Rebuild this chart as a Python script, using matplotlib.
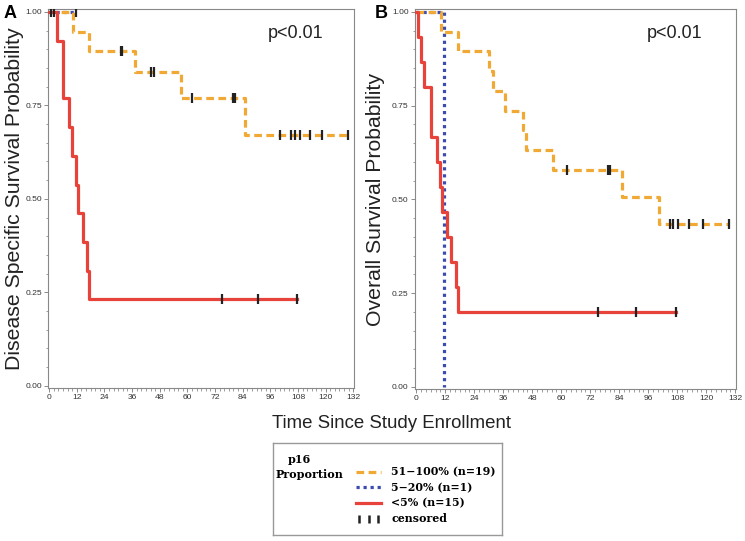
import matplotlib
matplotlib.use("Agg")
import matplotlib.pyplot as plt
from matplotlib.lines import Line2D
from matplotlib.legend_handler import HandlerLine2D
from matplotlib.ticker import MultipleLocator

# -----------------------------
# Data (months, survival probability)
# -----------------------------
# Panel A: disease specific survival
dss_hi_t = [0, 10.3, 17.5, 37.1, 57.1, 85.1, 129.7]
dss_hi_s = [1.0, 0.947, 0.895, 0.839, 0.769, 0.671, 0.671]
dss_hi_cens = [31.0, 31.6, 44.4, 45.5, 62.2, 79.8, 80.6, 100.4, 104.8,
               106.5, 108.7, 113.0, 118.5, 129.7]

dss_mid_t = [0, 11.7]
dss_mid_s = [1.0, 1.0]
dss_mid_cens = [11.7]

dss_lo_t = [0, 3.3, 6.2, 8.7, 10.1, 11.7, 12.7, 14.6, 16.6, 17.2, 107.7]
dss_lo_s = [1.0, 0.923, 0.769, 0.692, 0.615, 0.538, 0.462, 0.385, 0.308,
            0.231, 0.231]
dss_lo_cens = [0.7, 2.1, 75.0, 90.6, 107.7]

# Panel B: overall survival
os_hi_t = [0, 10.4, 17.3, 30.2, 31.6, 36.6, 44.2, 45.6, 56.7, 85.0, 100.6, 129.5]
os_hi_s = [1.0, 0.947, 0.895, 0.842, 0.789, 0.737, 0.684, 0.632, 0.579,
           0.507, 0.434, 0.434]
os_hi_cens = [62.2, 79.5, 80.3, 104.8, 106.3, 108.4, 112.9, 118.6, 129.5]

os_mid_t = [0, 11.7]
os_mid_s = [1.0, 0.0]
os_mid_cens = []

os_lo_t = [0, 0.7, 2.1, 3.2, 6.2, 8.7, 9.7, 10.8, 12.7, 14.5, 16.6, 17.3, 107.5]
os_lo_s = [1.0, 0.933, 0.867, 0.800, 0.667, 0.600, 0.533, 0.467, 0.400,
           0.333, 0.267, 0.200, 0.200]
os_lo_cens = [75.1, 90.8, 107.5]

group_labels = ["51\u2212100% (n=19)", "5\u221220% (n=1)", "<5% (n=15)"]

ORANGE = "#F0A935"
BLUE = "#3B4BAE"
RED = "#E8433B"

plt.rcParams["font.family"] = ["Liberation Sans", "DejaVu Sans"]


def surv_at(ts, ss, t):
    val = ss[0]
    for ti, si in zip(ts, ss):
        if ti <= t:
            val = si
    return val


def draw_group(ax, ts, ss, cens, style):
    ax.step(ts, ss, where="post", **style)
    if cens:
        ys = [surv_at(ts, ss, c) for c in cens]
        ax.plot(cens, ys, ls="none", marker="|", markersize=7,
                mew=1.6, color="#222222", zorder=5)


hi_style = dict(color=ORANGE, lw=2.3, dashes=(2.4, 1.4), zorder=3)
mid_style = dict(color=BLUE, lw=2.3, dashes=(1.0, 1.2), zorder=2,
                 dash_capstyle="butt")
lo_style = dict(color=RED, lw=2.3, zorder=4)


def style_axes(ax, ylabel, label_x):
    ax.set_xlim(-0.5, 132.3)
    ax.set_ylim(-0.006, 1.008)
    ax.xaxis.set_major_locator(MultipleLocator(12))
    ax.xaxis.set_minor_locator(MultipleLocator(2))
    ax.yaxis.set_major_locator(MultipleLocator(0.25))
    ax.yaxis.set_minor_locator(MultipleLocator(0.05))
    ax.yaxis.set_major_formatter(plt.FormatStrFormatter("%.2f"))
    ax.tick_params(axis="both", which="major", labelsize=6.1, length=3,
                   width=0.6, color="#777777", labelcolor="#333333", pad=1.5)
    ax.tick_params(axis="both", which="minor", length=1.8, width=0.5,
                   color="#777777")
    for sp in ax.spines.values():
        sp.set_color("#888888")
        sp.set_linewidth(0.8)
    ax.set_ylabel(ylabel, fontsize=15.3, color="#222222")
    ax.yaxis.set_label_coords(label_x, 0.5)
    ax.text(0.81, 0.935, "p<0.01", transform=ax.transAxes, ha="center",
            va="center", fontsize=13, color="#222222")


fig = plt.figure(figsize=(7.45, 5.41), dpi=100)
axA = fig.add_axes([48 / 745, 1 - 388 / 541, 306 / 745, 379 / 541])
axB = fig.add_axes([415 / 745, 1 - 389 / 541, 321 / 745, 380 / 541])

draw_group(axA, dss_mid_t, dss_mid_s, dss_mid_cens, mid_style)
draw_group(axA, dss_hi_t, dss_hi_s, dss_hi_cens, hi_style)
draw_group(axA, dss_lo_t, dss_lo_s, dss_lo_cens, lo_style)
style_axes(axA, "Disease Specific Survival Probability", -0.077)

draw_group(axB, os_mid_t, os_mid_s, os_mid_cens, mid_style)
draw_group(axB, os_hi_t, os_hi_s, os_hi_cens, hi_style)
draw_group(axB, os_lo_t, os_lo_s, os_lo_cens, lo_style)
style_axes(axB, "Overall Survival Probability", -0.095)

fig.text(10 / 745, 1 - 13 / 541, "A", fontsize=13, fontweight="bold",
         ha="center", va="center")
fig.text(381 / 745, 1 - 13 / 541, "B", fontsize=13, fontweight="bold",
         ha="center", va="center")
fig.text(391 / 745, 1 - 423 / 541, "Time Since Study Enrollment",
         fontsize=13.4, ha="center", va="center", color="#222222")

# -----------------------------
# Legend box
# -----------------------------
leg_ax = fig.add_axes([273 / 745, 1 - 535 / 541, 229 / 745, 92 / 541])
leg_ax.set_xticks([])
leg_ax.set_yticks([])
for sp in leg_ax.spines.values():
    sp.set_color("#999999")
    sp.set_linewidth(1.0)

handles = [
    Line2D([], [], **{k: v for k, v in hi_style.items() if k != "zorder"}),
    Line2D([], [], **{k: v for k, v in mid_style.items() if k != "zorder"}),
    Line2D([], [], **{k: v for k, v in lo_style.items() if k != "zorder"}),
]
cens_handle = Line2D([], [], ls="none", marker="|", markersize=6,
                     mew=1.8, color="#222222")
handles.append(cens_handle)
labels = group_labels + ["censored"]

serif = ["DejaVu Serif"]
leg = leg_ax.legend(handles, labels, loc="center left",
                    bbox_to_anchor=(0.32, 0.43), frameon=False,
                    handlelength=2.3, handletextpad=0.9, labelspacing=0.42,
                    prop=dict(family=serif, weight="bold", size=7.9),
                    handler_map={cens_handle: HandlerLine2D(numpoints=3)})
leg_ax.text(0.115, 0.82, "p16", transform=leg_ax.transAxes, ha="center",
            va="center", family=serif, fontweight="bold", fontsize=8.0)
leg_ax.text(0.16, 0.66, "Proportion", transform=leg_ax.transAxes,
            ha="center", va="center", family=serif, fontweight="bold",
            fontsize=8.0)

fig.savefig("out.png", dpi=100)
